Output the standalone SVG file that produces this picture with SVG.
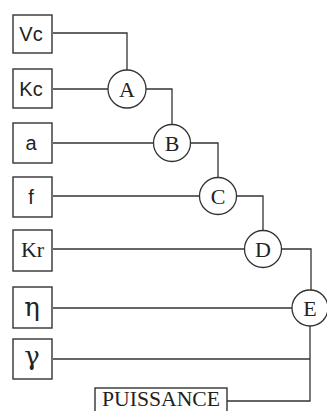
<svg xmlns="http://www.w3.org/2000/svg" width="327" height="411" viewBox="0 0 327 411">
<style>
.box{fill:#fff;stroke:#333;stroke-width:1.4}
.node{fill:#fff;stroke:#333;stroke-width:1.3}
.ln{fill:none;stroke:#333;stroke-width:1.3}
.sans{font-family:"Liberation Sans",Arial,sans-serif;font-size:20px;fill:#222;text-anchor:middle}
.serif{font-family:"Liberation Serif","Times New Roman",serif;font-size:22px;fill:#222;text-anchor:middle}
.greek{font-family:"DejaVu Serif","Liberation Serif",serif;font-size:26px;fill:#222;text-anchor:middle}
</style>
<rect width="327" height="411" fill="#fff"/>
<g id="connectors">
<polyline class="ln" points="53,33 127,33 127,70"/>
<line class="ln" x1="53" y1="89" x2="108" y2="89"/>
<polyline class="ln" points="146,89 172,89 172,125"/>
<line class="ln" x1="53" y1="143" x2="154" y2="143"/>
<polyline class="ln" points="190,143 218,143 218,178"/>
<line class="ln" x1="53" y1="196" x2="200" y2="196"/>
<polyline class="ln" points="236,196 263,196 263,231"/>
<line class="ln" x1="53" y1="249" x2="245" y2="249"/>
<polyline class="ln" points="281,249 311,249 311,290"/>
<line class="ln" x1="53" y1="308" x2="292" y2="308"/>
<line class="ln" x1="53" y1="359" x2="310" y2="359"/>
<polyline class="ln" points="310,326 310,401 227,401"/>
</g>
<g id="Vc"><rect class="box" x="13" y="15" width="39" height="38"/><text class="sans" x="31" y="41">Vc</text></g>
<g id="Kc"><rect class="box" x="13" y="69" width="39" height="39"/><text class="sans" x="31" y="96">Kc</text></g>
<g id="a"><rect class="box" x="13" y="123" width="39" height="40"/><text class="sans" x="31" y="150">a</text></g>
<g id="f"><rect class="box" x="13" y="177" width="39" height="40"/><text class="sans" x="31" y="204">f</text></g>
<g id="Kr"><rect class="box" x="13" y="230" width="39" height="41"/><text class="serif" x="32.5" y="257" font-size="20">Kr</text></g>
<g id="eta"><rect class="box" x="13" y="287" width="39" height="41"/><text class="greek" x="32" y="316">η</text></g>
<g id="gamma"><rect class="box" x="13" y="339" width="39" height="40"/><text class="greek" x="32" y="365">γ</text></g>
<g id="A"><circle class="node" cx="127" cy="89" r="19"/><text class="serif" x="127" y="97">A</text></g>
<g id="B"><circle class="node" cx="172" cy="143" r="18.5"/><text class="serif" x="172" y="151">B</text></g>
<g id="C"><circle class="node" cx="218" cy="196" r="18.5"/><text class="serif" x="218" y="204">C</text></g>
<g id="D"><circle class="node" cx="263" cy="249" r="18.5"/><text class="serif" x="263" y="257">D</text></g>
<g id="E"><circle class="node" cx="310" cy="308" r="18"/><text class="serif" x="310" y="316">E</text></g>
<g id="PUISSANCE"><rect class="box" x="95" y="388" width="132" height="30"/><text class="serif" x="161" y="406" font-size="18" textLength="118" lengthAdjust="spacingAndGlyphs">PUISSANCE</text></g>
</svg>
